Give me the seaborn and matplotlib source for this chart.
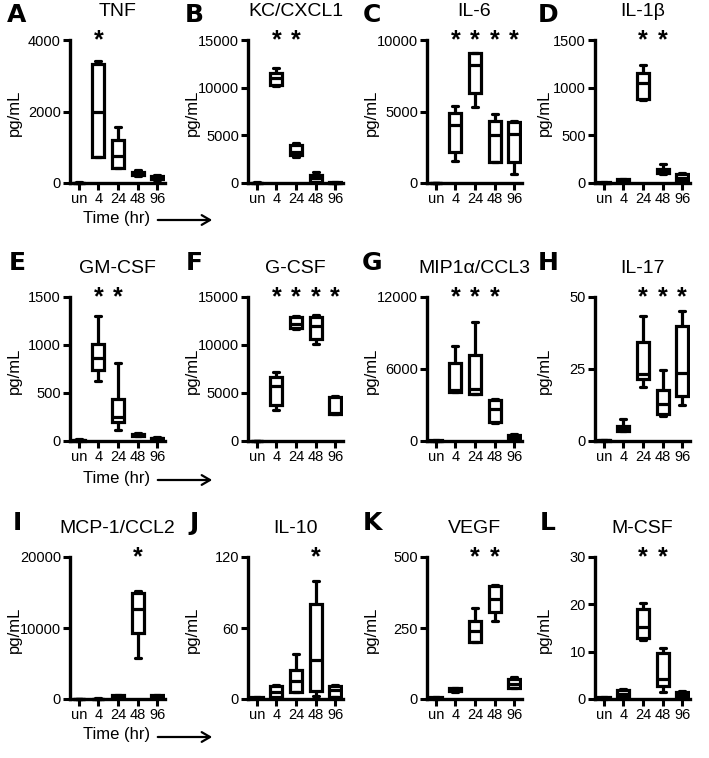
import pandas as pd
import seaborn as sns
import matplotlib
matplotlib.use('Agg')
import matplotlib.pyplot as plt

sns.set_style('ticks', {'axes.edgecolor': 'black', 'text.color': 'black',
                        'axes.labelcolor': 'black', 'xtick.color': 'black',
                        'ytick.color': 'black'})
plt.rcParams['font.family'] = ['Liberation Sans', 'DejaVu Sans']

times = ['un', '4', '24', '48', '96']

# five-number summaries per time point: [min, q1, median, q3, max]
tnf = [[0, 0, 5, 10, 15], [725, 730, 2000, 3330, 3400], [420, 430, 745, 1210, 1580],
       [200, 220, 260, 320, 360], [90, 100, 150, 200, 230]]
kc = [[0, 10, 20, 40, 60], [10200, 10300, 11050, 11500, 12100], [2750, 2900, 3300, 3950, 4150],
      [100, 150, 500, 800, 1180], [0, 20, 50, 80, 100]]
il6 = [[0, 5, 10, 20, 30], [1520, 2170, 4040, 4930, 5370], [5280, 6260, 8250, 9060, 9100],
       [1470, 1500, 3340, 4350, 4860], [650, 1470, 3460, 4280, 4350]]
il1b = [[0, 2, 5, 8, 10], [20, 25, 30, 40, 45], [870, 880, 1050, 1150, 1240],
        [95, 100, 140, 150, 200], [25, 30, 55, 90, 100]]
gmcsf = [[0, 5, 10, 15, 20], [625, 736, 868, 1014, 1299], [111, 198, 250, 441, 812],
         [50, 55, 65, 75, 80], [15, 20, 30, 35, 40]]
gcsf = [[0, 10, 20, 30, 40], [3190, 3715, 5690, 6670, 7190], [11700, 11750, 12150, 12900, 13000],
        [10140, 10660, 11940, 12900, 13090], [2780, 2800, 2950, 4580, 4700]]
mip1a = [[0, 20, 40, 60, 80], [4080, 4100, 4220, 6530, 7890], [3944, 3950, 4300, 7140, 9900],
         [1530, 1590, 2690, 3390, 3530], [200, 250, 350, 500, 550]]
il17 = [[0, 0.1, 0.2, 0.3, 0.4], [3.3, 3.5, 4.5, 5.1, 7.8], [18.8, 21.6, 23.4, 34.4, 43.3],
        [8.6, 9.3, 12.7, 17.8, 24.8], [12.4, 15.5, 23.6, 39.8, 45.1]]
mcp1 = [[0, 5, 10, 20, 30], [0, 10, 30, 50, 80], [250, 300, 400, 550, 600],
        [5840, 9250, 12660, 15000, 15190], [200, 250, 350, 500, 550]]
il10 = [[0.5, 0.8, 1, 1.5, 2], [1.0, 1.4, 5.6, 10.7, 12], [5.9, 6.0, 14.9, 24.7, 37.8],
        [2.5, 7, 33, 80, 99.5], [1.4, 2, 7.8, 10.7, 11.5]]
vegf = [[0, 2, 4, 6, 8], [25, 28, 32, 38, 40], [199, 200, 240, 275, 321],
        [274, 305, 352, 398, 401], [38, 40, 54, 70, 79]]
mcsf = [[0.1, 0.2, 0.3, 0.4, 0.5], [0.3, 0.4, 1.1, 1.96, 2.2], [12.5, 12.8, 15.3, 19, 20.2],
        [1.4, 2.7, 4.3, 9.7, 10.7], [0.6, 0.7, 1.2, 1.5, 1.7]]

panels = [
    ('A', 'TNF', tnf, [0, 2000, 4000], ['4']),
    ('B', 'KC/CXCL1', kc, [0, 5000, 10000, 15000], ['4', '24']),
    ('C', 'IL-6', il6, [0, 5000, 10000], ['4', '24', '48', '96']),
    ('D', 'IL-1β', il1b, [0, 500, 1000, 1500], ['24', '48']),
    ('E', 'GM-CSF', gmcsf, [0, 500, 1000, 1500], ['4', '24']),
    ('F', 'G-CSF', gcsf, [0, 5000, 10000, 15000], ['4', '24', '48', '96']),
    ('G', 'MIP1α/CCL3', mip1a, [0, 6000, 12000], ['4', '24', '48']),
    ('H', 'IL-17', il17, [0, 25, 50], ['24', '48', '96']),
    ('I', 'MCP-1/CCL2', mcp1, [0, 10000, 20000], ['48']),
    ('J', 'IL-10', il10, [0, 60, 120], ['48']),
    ('K', 'VEGF', vegf, [0, 250, 500], ['24', '48']),
    ('L', 'M-CSF', mcsf, [0, 10, 20, 30], ['24', '48']),
]

W, H = 709, 758
fig = plt.figure(figsize=(W / 100, H / 100), dpi=100)

col_left = [70, 248, 427, 595]
row_top = [40, 297, 557]
row_bot = [183, 441, 699]
letter_x = [17, 194, 372, 548]
letter_y = [15, 263, 523]
ax_w = 95
pad_frac = 0.02

for k, (letter, title, summ, yticks, stars) in enumerate(panels):
    r, c = divmod(k, 4)
    top = yticks[-1]
    h_data = row_bot[r] - row_top[r]
    extra = h_data * pad_frac
    rect = [col_left[c] / W, 1 - (row_bot[r] + extra) / H, ax_w / W, (h_data + extra) / H]
    ax = fig.add_axes(rect)

    rows = []
    for t, vals in zip(times, summ):
        for v in vals:
            rows.append({'time': t, 'pg/mL': v})
    df = pd.DataFrame(rows)

    sns.boxplot(data=df, x='time', y='pg/mL', order=times, whis=(0, 100), width=0.62,
                color='white', linecolor='black', linewidth=2.3, fliersize=0, ax=ax)

    ax.set_xlim(-0.45, 4.4)
    ax.set_ylim(-top * pad_frac, top)
    ax.set_yticks(yticks)
    ax.set_yticklabels([str(v) for v in yticks])
    ax.spines['top'].set_visible(False)
    ax.spines['right'].set_visible(False)
    ax.spines['bottom'].set_position(('data', 0))
    ax.spines['left'].set_bounds(0, top)
    for s in ['left', 'bottom']:
        ax.spines[s].set_linewidth(2.4)
        ax.spines[s].set_color('black')
    ax.tick_params(width=2.2, length=5, labelsize=10.5, pad=1.5, colors='black')
    ax.set_xlabel('')
    ax.set_ylabel('pg/mL', fontsize=12)
    off = 43 if c == 3 else 48
    ax.yaxis.set_label_coords(-off / ax_w, 0.5)

    for t in stars:
        ax.text(times.index(t), top, '*', ha='center', va='center', fontsize=18,
                fontweight='bold')

    ax.text(0.5, 1 + 28 / h_data, title, transform=ax.transAxes, ha='center', va='center',
            fontsize=14)
    fig.text(letter_x[c] / W, 1 - letter_y[r] / H, letter, ha='center', va='center',
             fontsize=18, fontweight='bold', family='DejaVu Sans')

# time axis hints under the left column
for y in [218, 478, 735]:
    fig.text(117 / W, 1 - y / H, 'Time (hr)', ha='center', va='center', fontsize=12)
    plt.annotate('', xy=(215 / W, 1 - (y + 2) / H), xytext=(155 / W, 1 - (y + 2) / H),
                 xycoords='figure fraction', textcoords='figure fraction',
                 arrowprops=dict(arrowstyle='->,head_length=0.6,head_width=0.35', lw=1.6,
                                 color='black'))

fig.savefig('out.png', dpi=100)
